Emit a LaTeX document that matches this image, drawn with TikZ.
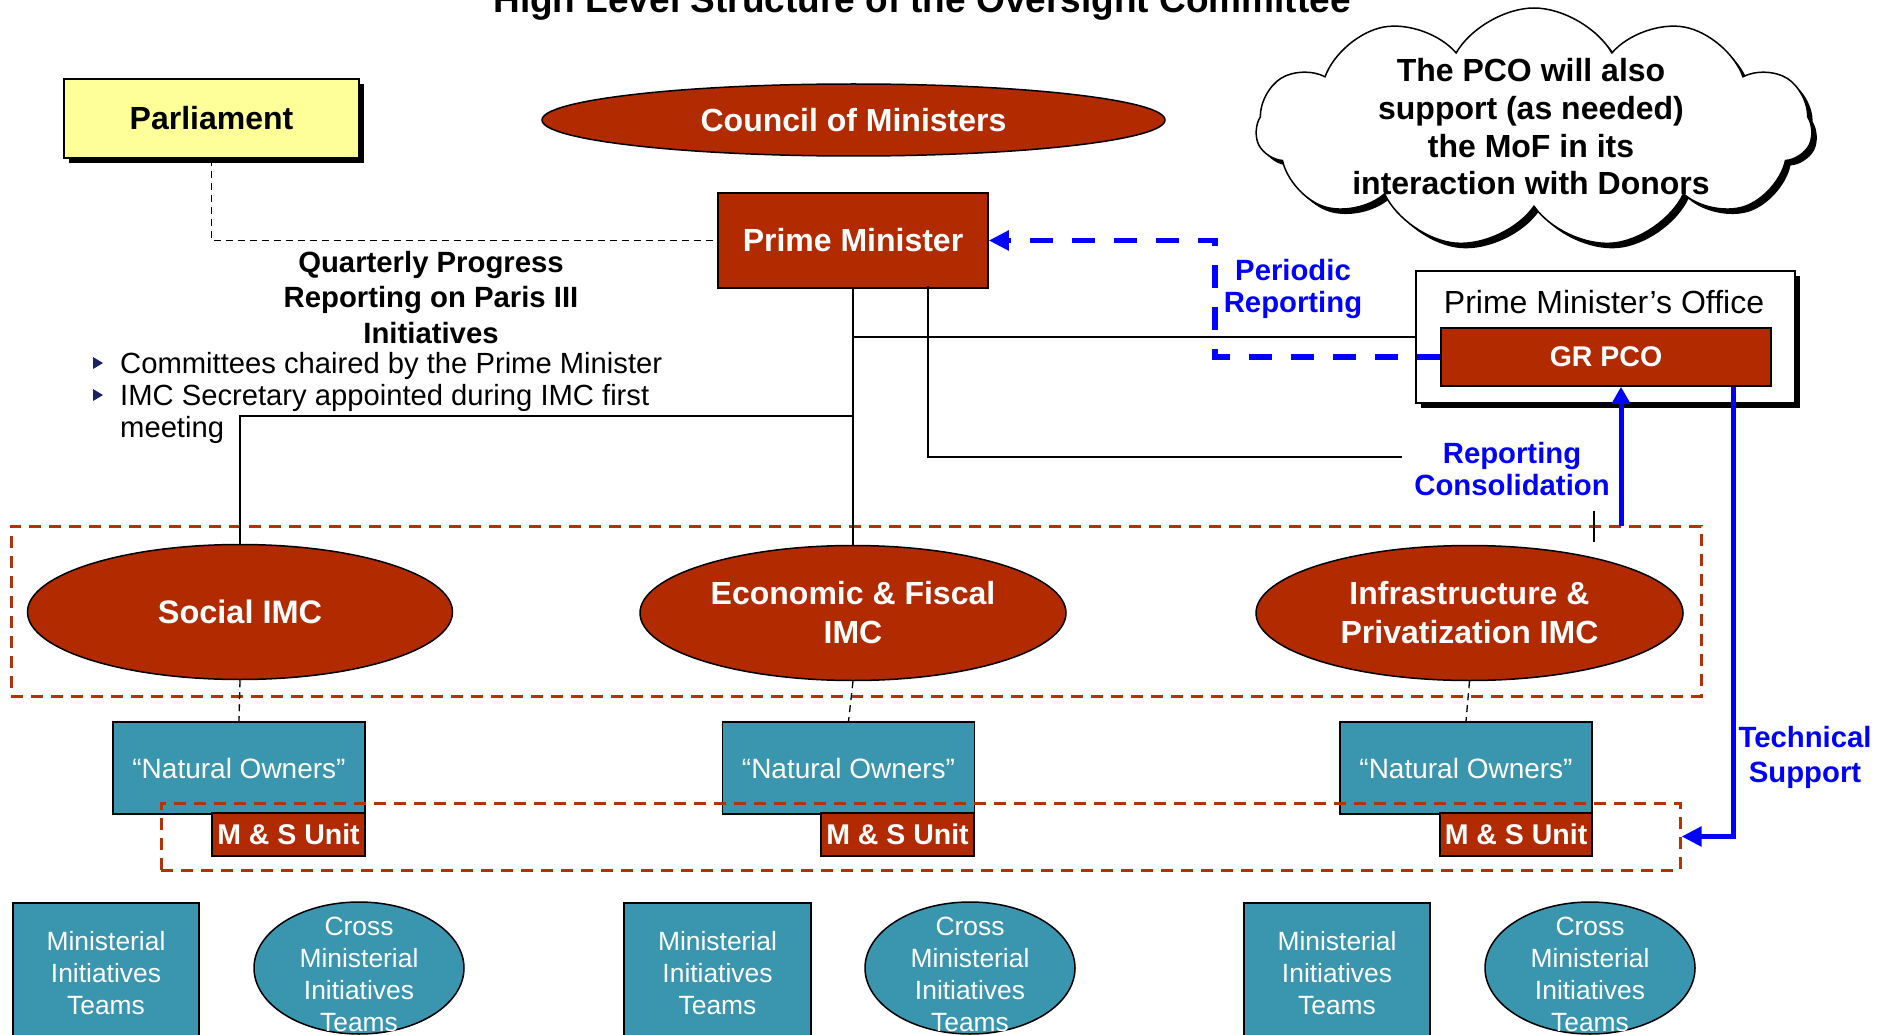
\documentclass[tikz,border=0pt]{standalone}
\usepackage{fontspec}
\setmainfont{Liberation Sans}
\usetikzlibrary{arrows.meta,shapes.geometric,shapes.symbols,shadows}
\definecolor{brick}{RGB}{178,42,0}
\definecolor{tealb}{RGB}{58,149,174}
\definecolor{paleyellow}{RGB}{255,255,153}
\definecolor{navyb}{RGB}{25,35,100}
\definecolor{dashred}{RGB}{180,50,10}
\begin{document}
\begin{tikzpicture}[x=1pt,y=-1pt,
  conn/.style={line width=1.5pt},
  bdash/.style={line width=1.3pt, dash pattern=on 7pt off 5pt},
  reddash/.style={draw=dashred, line width=3pt, dash pattern=on 12pt off 8pt, inner sep=0pt},
  bluedash/.style={draw=blue, line width=5.5pt, dash pattern=on 23pt off 19pt},
  bluesolid/.style={draw=blue, line width=5pt},
  btip/.style={-{Triangle[length=20pt,width=19pt]}},
  shad/.style={drop shadow={shadow xshift=5pt,shadow yshift=-5pt,opacity=1,fill=black}},
  bigb/.style={font=\fontsize{32}{38}\selectfont\bfseries},
  redbox/.style={draw=black, line width=1.5pt, fill=brick, text=white, inner sep=0pt},
  redell/.style={ellipse, draw=black, line width=1.5pt, fill=brick, text=white, inner sep=0pt, bigb, align=center},
  tealbox/.style={draw=black, line width=1.5pt, fill=tealb, text=white, inner sep=0pt},
  bluelbl/.style={text=blue, font=\fontsize{29.3}{32}\selectfont\bfseries, align=center, inner sep=0pt},
  teamtxt/.style={text=white, font=\fontsize{26.4}{32}\selectfont, align=center, inner sep=0pt},
]
\useasboundingbox (0,0) rectangle (1887,1035);
\clip (0,0) rectangle (1887,1035);

% title
\node[anchor=base, font=\fontsize{37}{44}\selectfont\bfseries, inner sep=0pt] (title) at (922,13) {High Level Structure of the Oversight Committee};

% cloud
\node[cloud, cloud puffs=11, cloud puff arc=120, cloud ignores aspect, minimum width=556pt, minimum height=240pt,
      draw=black, line width=1.5pt, fill=white, shad, inner sep=0pt] (cloud) at (1534,128) {};
\node[anchor=base, align=center, inner sep=0pt, font=\fontsize{32}{37.7}\selectfont\bfseries] (cloudtxt) at (1531,195)
  {The PCO will also\\support (as needed)\\the MoF in its\\interaction with Donors};

% top nodes
\node[draw=black, line width=1.5pt, fill=paleyellow, shad, minimum width=295pt, minimum height=79pt, inner sep=0pt, bigb] (parl) at (211.5,118.5) {Parliament};
\node[redell, minimum width=623pt, minimum height=72pt] (council) at (853.5,120) {Council of Ministers};
\node[redbox, minimum width=270pt, minimum height=95pt, bigb] (pm) at (853,240.5) {Prime Minister};

% PMO
\node[draw=black, line width=1.5pt, fill=white, shad, minimum width=379pt, minimum height=132pt, inner sep=0pt] (pmo) at (1605.5,337) {};
\node[anchor=base, inner sep=0pt, font=\fontsize{32}{36}\selectfont] (pmotxt) at (1604,313) {Prime Minister’s Office};
\node[redbox, minimum width=330pt, minimum height=58pt, font=\fontsize{28.5}{34}\selectfont\bfseries] (gr) at (1606,357) {GR PCO};

% text block left
\node[anchor=base, align=center, inner sep=0pt, font=\fontsize{29.3}{35.5}\selectfont\bfseries] (qpr) at (431,343)
  {Quarterly Progress\\Reporting on Paris III\\Initiatives};
\fill[navyb] (93,357) -- (103,363) -- (93,369) -- cycle;
\fill[navyb] (93,389) -- (103,395) -- (93,401) -- cycle;
\node[anchor=base west, inner sep=0pt, font=\fontsize{29.2}{32.5}\selectfont] (b1) at (120,373) {Committees chaired by the Prime Minister};
\node[anchor=base west, inner sep=0pt, font=\fontsize{29.2}{32.5}\selectfont, align=left] (b2) at (120,437.5) {IMC Secretary appointed during IMC first\\meeting};

% IMC group
\node[reddash, minimum width=1690pt, minimum height=170pt] (g1) at (856,611) {};
\node[redell, minimum width=425pt, minimum height=135pt, font=\fontsize{32.5}{39}\selectfont\bfseries] (soc) at (240,612) {Social IMC};
\node[redell, minimum width=426pt, minimum height=135pt, font=\fontsize{32}{39}\selectfont\bfseries] (eco) at (853,613) {Economic \& Fiscal\\IMC};
\node[redell, minimum width=427pt, minimum height=135pt, font=\fontsize{32}{39}\selectfont\bfseries] (inf) at (1469.5,613) {Infrastructure \&\\Privatization IMC};

% Natural owners
\node[tealbox, minimum width=252pt, minimum height=92pt, font=\fontsize{28}{34}\selectfont] (no1) at (239,768) {“Natural Owners”};
\node[tealbox, minimum width=252pt, minimum height=92pt, font=\fontsize{28}{34}\selectfont] (no2) at (848.5,768) {“Natural Owners”};
\node[tealbox, minimum width=252pt, minimum height=92pt, font=\fontsize{28}{34}\selectfont] (no3) at (1466,768) {“Natural Owners”};
\node[redbox, minimum width=153pt, minimum height=43pt, font=\fontsize{28.5}{34}\selectfont\bfseries] (ms1) at (288.5,834.5) {M \& S Unit};
\node[redbox, minimum width=153pt, minimum height=43pt, font=\fontsize{28.5}{34}\selectfont\bfseries] (ms2) at (897.5,834.5) {M \& S Unit};
\node[redbox, minimum width=152pt, minimum height=43pt, font=\fontsize{28.5}{34}\selectfont\bfseries] (ms3) at (1516,834.5) {M \& S Unit};
\node[reddash, minimum width=1519pt, minimum height=67pt] (g2) at (920.5,836.5) {};

% teams
\node[tealbox, minimum width=186pt, minimum height=140pt, teamtxt] (mt1) at (106,973) {Ministerial\\Initiatives\\Teams};
\node[tealbox, minimum width=187pt, minimum height=140pt, teamtxt] (mt2) at (717.5,973) {Ministerial\\Initiatives\\Teams};
\node[tealbox, minimum width=186pt, minimum height=140pt, teamtxt] (mt3) at (1337,973) {Ministerial\\Initiatives\\Teams};
\node[ellipse, draw=black, line width=1.5pt, fill=tealb, minimum width=210pt, minimum height=132pt, inner sep=0pt] (ce1) at (359,968) {};
\node[ellipse, draw=black, line width=1.5pt, fill=tealb, minimum width=210pt, minimum height=132pt, inner sep=0pt] (ce2) at (970,968) {};
\node[ellipse, draw=black, line width=1.5pt, fill=tealb, minimum width=210pt, minimum height=132pt, inner sep=0pt] (ce3) at (1590,968) {};
\node[teamtxt, anchor=base] (ct1) at (359,1031) {Cross\\Ministerial\\Initiatives\\Teams};
\node[teamtxt, anchor=base] (ct2) at (970,1031) {Cross\\Ministerial\\Initiatives\\Teams};
\node[teamtxt, anchor=base] (ct3) at (1590,1031) {Cross\\Ministerial\\Initiatives\\Teams};

% labels
\node[bluelbl, anchor=base] (perlbl) at (1293,312) {Periodic\\Reporting};
\node[bluelbl, anchor=base] (rclbl) at (1512,495) {Reporting\\Consolidation};
\node[bluelbl, anchor=base, font=\fontsize{29.3}{35}\selectfont\bfseries] (tslbl) at (1805,782) {Technical\\Support};

% connectors
\coordinate (j1) at (854,337);
\coordinate (j2) at (854,416);
\coordinate (rc) at (1402,457);
\coordinate (tk1) at (1594,511);
\coordinate (tk2) at (1594,542);
\coordinate (pr) at (1215,357);
\coordinate (rcb) at (1621,526);
\coordinate (tsx) at (1733,0);

\draw[bdash] (parl.south) |- (pm.west);
\draw[conn] (pm.south) -- (eco.north);
\draw[conn] (j1) -- (pmo.west);
\draw[conn] (j2) -| (soc.north);
\draw[conn] ([xshift=75pt,yshift=3pt]pm.south) |- (rc);
\draw[conn] (tk1) -- (tk2);
\draw[bdash] (soc.south) -- (no1.north);
\draw[bdash] (eco.south) -- (no2.north);
\draw[bdash] (inf.south) -- (no3.north);

\draw[bluedash] (gr.west) -- (pr) |- ([xshift=18pt]pm.east);
\draw[blue, line width=5pt, btip] ([xshift=19pt]pm.east) -- (pm.east);
\draw[bluesolid, -{Triangle[length=17pt,width=18pt]}] (rcb) -- (rcb |- gr.south);
\draw[bluesolid, btip] (gr.south -| tsx) |- (g2.east);
\end{tikzpicture}
\end{document}
